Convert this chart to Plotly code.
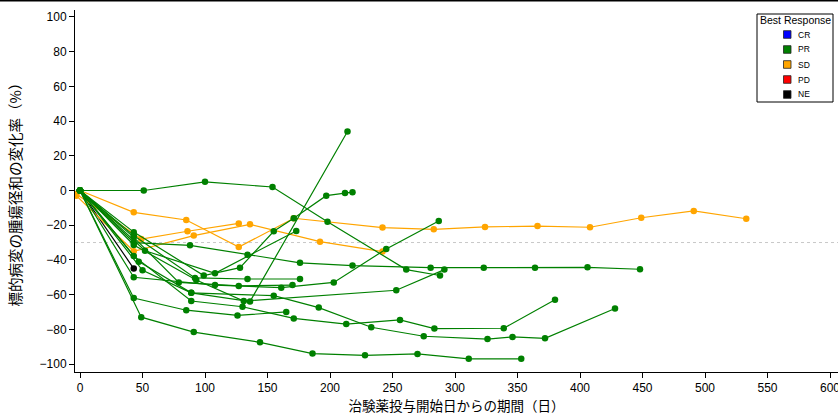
import plotly.graph_objects as go

# ---- data: days from first dose, % change in sum of target lesion diameters ----
pr_days = [
    [0, 51, 100, 154, 198, 261, 288],
    [0, 43, 88, 134, 176, 218, 280.5, 323, 364, 406, 448],
    [0, 47, 89, 136, 214],
    [0, 43, 99, 128, 155, 171, 197, 212, 218],
    [0, 43, 92, 134, 176],
    [0, 43, 108, 161, 203, 245, 287],
    [0, 43, 85, 126, 165],
    [0, 49, 91, 144, 186, 228, 270, 311, 353],
    [0, 43, 89, 130, 171, 213, 256, 283.5, 339, 380],
    [0, 50, 89, 155, 191, 233, 275, 326, 346, 372, 428],
    [0, 43, 79, 127, 170],
    [0, 43, 93, 131, 253, 291.5],
    [0, 52, 108, 173],
]
pr_pct = [
    [0, 0, 5, 2, -18, -45.6, -49],
    [0, -30, -31.6, -37, -41.7, -43.3, -44.5, -44.5, -44.5, -44.3, -45.4],
    [0, -41, -59, -64, 34],
    [0, -24, -49, -44.5, -23.5, -16, -3, -1.5, -1],
    [0, -26, -50.4, -51, -51],
    [0, -50, -54.5, -56, -53, -33.7, -17.6],
    [0, -62, -69, -72, -70],
    [0, -73, -81.6, -87.5, -94, -95, -94.2, -97, -97],
    [0, -37.7, -63.7, -67, -73.7, -77, -74.6, -79.6, -79.4, -63],
    [0, -46, -59, -60.6, -67.5, -78.8, -84, -85.6, -84.4, -85.2, -68],
    [0, -27, -53, -55, -54.5],
    [0, -31.4, -51.6, -63.7, -57.5, -45.6],
    [0, -34.7, -47.7, -23.3],
]
sd_days = [
    [0, 43, 85, 127, 171, 242, 283, 324, 366, 408, 449, 491, 533],
    [-3, 49, 86, 127],
    [-3, 43, 91, 136, 192, 242],
]
sd_pct = [
    [0, -12.6, -17, -32.6, -16, -21.4, -22.4, -21, -20.5, -21.2, -15.7, -11.8, -16.3],
    [-2, -28, -23.5, -19],
    [-3, -35, -26, -19.5, -29.5, -35.2],
]
ne_days = [[0, 43]]
ne_pct = [[0, -45]]

legend_labels = ["CR", "PR", "SD", "PD", "NE"]
legend_colors = ["#0000FF", "#008000", "#FFA500", "#FF0000", "#000000"]
color_of = dict(zip(legend_labels, legend_colors))

W, H = 838, 418
ML, MR, MT, MB = 75, 0, 10, 46
PW, PH = W - ML - MR, H - MT - MB


def px2paper(px, py):
    return (px - ML) / PW, 1 - (py - MT) / PH


fig = go.Figure()


def add_group(days_list, pct_list, resp):
    c = color_of[resp]
    for d, p in zip(days_list, pct_list):
        fig.add_trace(go.Scatter(
            x=d, y=p, mode="lines+markers",
            line=dict(color=c, width=1.2),
            marker=dict(color=c, size=6.5, symbol="circle"),
            showlegend=False, hoverinfo="x+y"))


add_group(ne_days, ne_pct, "NE")
add_group(sd_days, sd_pct, "SD")
add_group(pr_days, pr_pct, "PR")

# reference line at -30%
fig.add_shape(type="line", xref="paper", yref="y", x0=0, x1=1, y0=-30, y1=-30,
              line=dict(color="#C8C8C8", width=1, dash="dot"), layer="below")
# top border line
fig.add_shape(type="line", xref="paper", yref="paper", x0=-ML / PW, x1=1.0,
              y0=1 + (MT - 0.8) / PH, y1=1 + (MT - 0.8) / PH,
              line=dict(color="black", width=1.5))

# ---- manual legend box ----
lx0, ly0 = px2paper(757, 14)
lx1, ly1 = px2paper(833, 102)
fig.add_shape(type="rect", xref="paper", yref="paper", x0=lx0, x1=lx1, y0=ly1, y1=ly0,
              line=dict(color="black", width=1), fillcolor="white", layer="above")
tx, ty = px2paper(795, 20)
fig.add_annotation(xref="paper", yref="paper", x=tx, y=ty, text="Best Response",
                   showarrow=False, xanchor="center", yanchor="middle",
                   font=dict(family="Liberation Sans", size=10.5, color="black"))
for i, (lab, col) in enumerate(zip(legend_labels, legend_colors)):
    cy = 34.5 + 15 * i
    sx0, sy0 = px2paper(783.5, cy - 3.8)
    sx1, sy1 = px2paper(791, cy + 3.8)
    fig.add_shape(type="rect", xref="paper", yref="paper", x0=sx0, x1=sx1, y0=sy1, y1=sy0,
                  line=dict(color="#222222", width=0.8), fillcolor=col, layer="above")
    ax, ay = px2paper(796, cy)
    fig.add_annotation(xref="paper", yref="paper", x=ax, y=ay, text=lab,
                       showarrow=False, xanchor="left", yanchor="middle",
                       font=dict(family="Liberation Sans", size=8.5, color="black"))

tick_font = dict(family="Liberation Sans, Noto Sans CJK JP", size=12, color="black")

fig.update_layout(
    width=W, height=H,
    margin=dict(l=ML, r=MR, t=MT, b=MB, autoexpand=False),
    paper_bgcolor="white", plot_bgcolor="white",
    showlegend=False,
    xaxis=dict(range=[-4, 606.4], tickmode="array",
               tickvals=list(range(0, 601, 50)),
               ticks="outside", ticklen=5, tickcolor="black",
               showline=True, linecolor="black", linewidth=1,
               showgrid=False, zeroline=False, tickfont=tick_font, automargin=False,
               ticklabeloverflow="allow",
               title=dict(text="治験薬投与開始日からの期間（日）",
                          font=dict(family="Noto Sans CJK JP", size=13.5, color="black"),
                          standoff=4)),
    yaxis=dict(range=[-104.6, 104], tickmode="array",
               tickvals=list(range(-100, 101, 20)),
               ticks="outside", ticklen=5, tickcolor="black",
               showline=True, linecolor="black", linewidth=1,
               showgrid=False, zeroline=False, tickfont=tick_font, automargin=False,
               title=dict(text="標的病変の腫瘍径和の変化率（%）",
                          font=dict(family="Noto Sans CJK JP", size=14.5, color="black"),
                          standoff=14)),
)

fig.write_html("out.html", config={"displayModeBar": False},
               post_script="document.body.style.margin='0';document.body.style.padding='0';")
